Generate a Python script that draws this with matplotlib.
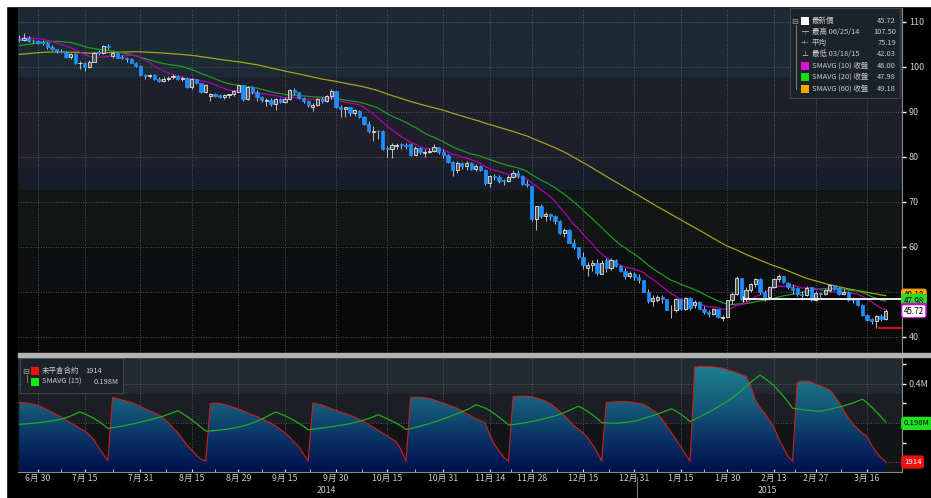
import numpy as np
import pandas as pd
import matplotlib
matplotlib.use('Agg')
import matplotlib.pyplot as plt
from matplotlib.patches import Rectangle
from matplotlib.colors import LinearSegmentedColormap
from matplotlib.lines import Line2D
import matplotlib.transforms as mtrans

plt.rcParams['font.family'] = ['Noto Sans CJK TC', 'DejaVu Sans']

# closes before the visible window (only used for the moving averages)
pre_close = [101.28, 101.67, 101.58,
             99.74, 99.62, 100.29, 101.14, 100.44, 102.56, 103.60, 103.40, 103.74, 104.05, 103.75,
             103.76, 104.30, 104.38, 102.13, 101.44, 101.94, 100.60, 100.84, 101.28, 99.74,
             99.42, 99.76, 99.48, 99.50, 100.77, 100.26, 99.99, 100.59, 101.70, 102.37, 101.50,
             102.02, 102.61, 102.44, 104.07, 103.73, 104.35, 104.11, 102.72, 103.58, 102.71,
             102.47, 102.66, 102.64, 102.48, 102.66, 104.41, 104.35, 104.40, 106.53, 106.91,
             106.90, 106.36, 106.97, 106.43, 107.26, 106.17]

# visible window 2014-06-24 .. 2015-03-20, one value per trading day
opens = [106.1, 106.0, 106.5, 105.8, 105.7,
         105.4, 105.3, 104.5, 104.0, 103.6, 103.4, 102.3, 102.9, 100.8, 100.9, 99.9, 101.2, 103.2, 103.1, 104.6,
         102.4, 103.1, 102.1, 102.1, 101.7, 100.9, 100.3,
         98.2, 97.9, 98.3, 97.4, 96.9, 97.3, 97.7, 98.1, 97.4, 97.6, 95.6, 97.3, 96.4, 94.5, 93.5, 94.0, 93.7,
         93.4, 93.8, 93.9, 94.5,
         95.9, 92.9, 95.5, 94.5, 93.3, 92.4, 92.7, 91.7, 92.8, 92.3, 92.9, 94.9, 94.4, 93.1, 92.4, 91.0, 91.6,
         92.8, 92.5, 93.5, 94.6,
         91.2, 90.7, 91.0, 89.7, 90.3, 88.9, 87.3, 85.5, 85.8, 85.7, 81.9, 81.8, 82.4, 82.9, 82.7, 82.8, 80.5,
         82.1, 80.8, 81.0, 81.4, 82.2, 81.1,
         80.5, 78.8, 77.2, 78.7, 77.9, 78.7, 77.4, 77.9, 77.2, 74.2, 75.8, 75.6, 74.9, 74.6, 75.6, 76.5, 75.8,
         74.1, 73.5,
         66.2, 69.0, 66.9, 67.4, 66.8, 65.8, 63.0, 63.8, 60.9, 60.0, 57.8, 55.3, 55.9, 56.5, 54.1, 57.0, 55.3,
         57.1, 55.8, 54.7, 53.6, 54.1,
         53.3, 52.7, 50.0, 47.9, 48.3, 48.8, 48.4, 46.1, 45.9, 48.5, 46.3, 48.7, 47.2, 47.8, 46.3, 45.6, 45.2,
         46.2, 44.2, 44.5,
         48.2, 49.6, 53.0, 48.5, 50.5, 51.7, 52.9, 50.0, 48.8, 51.2, 52.8, 53.5, 52.1, 51.2, 50.8, 49.5, 49.3,
         51.0, 48.2,
         49.8, 49.6, 50.5, 51.5, 50.8, 49.6, 50.0, 48.3, 48.2, 47.1, 44.8, 43.9, 43.5, 44.7, 44.0]
highs = [107.2, 107.5, 106.9, 106.2, 106.1,
         106.0, 105.5, 104.9, 104.1, 104.0, 103.6, 103.2, 103.0, 101.3, 101.1, 101.6, 103.4, 103.8, 104.9, 105.0,
         103.3, 103.4, 102.6, 102.3, 102.0, 101.0, 100.5,
         98.5, 98.5, 98.4, 97.8, 97.7, 98.1, 98.4, 98.2, 97.9, 97.7, 97.5, 97.4, 96.5, 96.3, 94.3, 94.3, 94.0,
         94.0, 94.1, 94.8, 96.1,
         96.0, 95.7, 95.7, 94.9, 93.6, 93.2, 93.1, 93.1, 93.2, 93.4, 95.0, 95.3, 94.5, 93.3, 92.6, 91.9, 93.0,
         93.3, 93.7, 95.0, 94.7,
         91.5, 91.2, 91.1, 90.6, 90.5, 89.0, 88.0, 86.9, 86.1, 85.9, 82.4, 83.0, 83.2, 83.2, 83.0, 83.1, 82.4,
         82.2, 81.7, 82.0, 82.8, 82.3, 81.7,
         80.7, 79.0, 79.0, 78.8, 79.1, 78.9, 78.4, 78.2, 77.3, 76.0, 76.3, 76.0, 75.0, 75.9, 77.1, 77.2, 76.0,
         74.8, 73.6,
         69.2, 69.5, 67.8, 67.6, 67.0, 65.9, 64.3, 64.1, 61.8, 60.1, 58.9, 56.7, 57.0, 57.3, 57.0, 57.5, 57.5,
         57.4, 56.0, 55.3, 54.6, 54.4,
         53.9, 52.7, 50.6, 49.3, 49.3, 49.3, 48.5, 47.1, 48.7, 48.6, 48.8, 48.9, 48.3, 48.0, 46.8, 46.0, 46.4,
         46.3, 44.8, 48.3,
         50.1, 53.5, 53.2, 51.0, 52.0, 53.2, 53.1, 50.5, 51.4, 53.0, 53.9, 53.6, 52.3, 51.8, 51.0, 50.2, 51.3,
         51.2, 50.3,
         50.0, 50.7, 51.7, 51.6, 51.0, 50.6, 50.2, 48.8, 48.4, 47.4, 45.1, 44.2, 44.8, 45.0, 46.3]
lows = [105.6, 105.8, 105.6, 105.3, 105.0,
        104.9, 104.1, 103.8, 103.2, 103.0, 102.1, 101.8, 100.6, 99.6, 99.0, 99.7, 101.0, 102.6, 102.9, 104.0,
        101.9, 101.9, 101.7, 101.1, 100.8, 99.9, 98.0,
        97.4, 97.5, 97.1, 96.7, 96.6, 96.9, 97.4, 97.2, 96.9, 95.4, 95.2, 96.2, 94.3, 94.2, 92.5, 93.3, 93.1,
        92.9, 93.2, 93.6, 94.4,
        92.5, 92.7, 94.0, 92.5, 92.2, 91.4, 91.4, 90.5, 91.9, 92.0, 92.6, 93.8, 92.9, 91.9, 91.2, 90.3, 91.3,
        92.1, 92.2, 92.8, 90.9,
        88.8, 88.9, 89.2, 89.2, 88.6, 87.0, 85.3, 83.6, 84.0, 81.6, 80.0, 79.8, 81.7, 81.8, 81.8, 80.2, 80.4,
        80.7, 80.0, 80.8, 81.0, 80.6, 79.8,
        78.6, 75.8, 76.5, 77.4, 77.2, 77.0, 76.9, 76.8, 73.8, 73.3, 74.9, 74.3, 73.7, 74.4, 75.4, 75.4, 73.8,
        73.3, 65.7,
        63.7, 66.5, 65.8, 66.1, 65.1, 62.8, 62.3, 60.8, 59.6, 57.3, 55.0, 53.6, 54.7, 53.7, 53.9, 54.5, 54.9,
        55.5, 54.5, 52.9, 53.1, 52.6,
        52.0, 49.9, 47.6, 46.8, 47.7, 47.6, 45.9, 44.2, 45.5, 46.0, 45.9, 45.9, 46.5, 46.2, 45.2, 44.4, 44.8,
        44.2, 43.6, 44.3,
        47.4, 49.3, 48.3, 48.0, 50.0, 51.0, 49.6, 48.0, 48.4, 50.9, 52.2, 51.9, 50.6, 49.5, 49.1, 48.2, 49.0,
        47.9, 48.0,
        48.9, 49.3, 50.0, 50.4, 49.4, 49.3, 48.0, 47.6, 46.8, 44.6, 43.6, 42.9, 42.03, 43.5, 43.8]
closes = [106.03, 106.50, 105.84, 105.74, 105.37,
          105.34, 104.48, 104.06, 103.53, 103.40, 102.29, 102.93, 100.83, 100.91, 99.96, 101.20, 103.19, 103.13,
          104.59, 104.42, 103.12, 102.07, 102.09, 101.67, 100.97, 100.27, 98.17,
          97.88, 98.29, 97.38, 96.92, 97.34, 97.65, 98.08, 97.37, 97.59, 95.58, 97.35, 96.41, 94.48, 96.07,
          93.96, 93.65, 93.35, 93.86, 93.88, 94.55, 95.96,
          92.88, 95.54, 94.45, 93.29, 92.66, 92.75, 91.67, 92.83, 92.27, 92.92, 94.88, 94.42, 93.07, 92.41,
          91.52, 91.56, 92.80, 92.53, 93.54, 94.57, 91.16,
          90.73, 91.01, 89.74, 90.34, 88.85, 87.31, 85.77, 85.82, 85.74, 81.84, 81.78, 82.70, 82.75, 82.71,
          82.49, 80.52, 82.09, 81.01, 81.00, 81.42, 82.20, 81.12, 80.54,
          78.78, 77.19, 78.68, 77.91, 78.65, 77.40, 77.94, 77.18, 74.21, 75.82, 75.64, 74.61, 74.58, 75.58,
          76.51, 75.78, 74.09, 73.69, 66.15,
          69.00, 66.88, 67.38, 66.81, 65.84, 63.05, 63.82, 60.94, 59.95, 57.81, 55.91, 55.93, 56.47, 54.11,
          56.52, 55.26, 57.12, 55.84, 54.73, 53.61, 54.12, 53.27,
          52.69, 50.04, 47.93, 48.65, 48.79, 48.36, 46.07, 45.89, 48.48, 46.25, 48.69, 46.39, 47.78, 46.31,
          45.59, 45.15, 46.23, 44.45, 44.53, 48.24,
          49.57, 53.05, 48.45, 50.48, 51.69, 52.86, 50.02, 48.84, 51.21, 52.78, 53.53, 52.14, 51.16, 50.34,
          49.45, 49.25, 50.99, 48.17, 49.76,
          49.59, 50.52, 51.53, 50.76, 49.61, 50.00, 48.29, 48.17, 47.05, 44.84, 43.88, 43.46, 44.66, 43.96, 45.72]

# open interest, millions of contracts
oi_pre = [0.280, 0.275, 0.265, 0.255, 0.240, 0.220, 0.200, 0.180, 0.150, 0.110, 0.070, 0.030, 0.005, 0.315]
oi = [0.305, 0.303, 0.300, 0.296, 0.290, 0.280, 0.268, 0.255, 0.243, 0.230, 0.215, 0.200, 0.188, 0.172,
      0.160, 0.140, 0.115, 0.075, 0.040, 0.007,
      0.330, 0.325, 0.318, 0.312, 0.306, 0.296, 0.285, 0.273, 0.262, 0.252, 0.240, 0.222, 0.200, 0.175,
      0.150, 0.118, 0.088, 0.060, 0.035, 0.015, 0.004,
      0.300, 0.302, 0.300, 0.295, 0.288, 0.280, 0.272, 0.262, 0.252, 0.242, 0.233, 0.222, 0.210, 0.200,
      0.185, 0.168, 0.150, 0.128, 0.103, 0.078, 0.040, 0.004,
      0.302, 0.298, 0.292, 0.282, 0.272, 0.265, 0.255, 0.248, 0.240, 0.230, 0.218, 0.205, 0.192, 0.178,
      0.163, 0.148, 0.133, 0.118, 0.103, 0.060, 0.004,
      0.330, 0.332, 0.332, 0.330, 0.325, 0.318, 0.310, 0.302, 0.293, 0.284, 0.275, 0.262, 0.248, 0.235,
      0.222, 0.212, 0.200, 0.140, 0.090, 0.055, 0.025, 0.004,
      0.335, 0.337, 0.338, 0.337, 0.335, 0.328, 0.320, 0.312, 0.298, 0.280, 0.260, 0.238, 0.212, 0.188,
      0.170, 0.150, 0.125, 0.090, 0.055, 0.004,
      0.304, 0.306, 0.308, 0.310, 0.310, 0.308, 0.305, 0.300, 0.295, 0.282, 0.265, 0.248, 0.218, 0.185,
      0.150, 0.115, 0.080, 0.040, 0.004,
      0.485, 0.490, 0.490, 0.490, 0.487, 0.484, 0.480, 0.472, 0.465, 0.458, 0.448, 0.438, 0.390, 0.320,
      0.280, 0.250, 0.215, 0.180, 0.120, 0.075, 0.030, 0.004,
      0.408, 0.414, 0.415, 0.410, 0.398, 0.390, 0.380, 0.368, 0.340, 0.305, 0.265, 0.225, 0.195, 0.170,
      0.148, 0.130, 0.085, 0.050, 0.022, 0.001914]

tick_pos = [4, 14, 26, 37, 47, 57, 68, 79, 91, 101, 110, 121, 132, 142, 152, 162, 171, 182]
tick_labels = ['6月 30', '7月 15', '7月 31', '8月 15', '8月 29', '9月 15', '9月 30', '10月 15', '10月 31',
               '11月 14', '11月 28', '12月 15', '12月 31', '1月 15', '1月 30', '2月 13', '2月 27', '3月 16']
year_labels = ['2014', '2015']
year_pos = [66, 160.5]
year_break = 132.5

W, H = 931, 498
fig = plt.figure(figsize=(W / 100, H / 100), dpi=100, facecolor='black')

def fx(px):
    return px / W

def fy(py):
    return 1 - py / H

# white margin strips
fig.add_artist(Rectangle((0, 0), fx(6), 1, transform=fig.transFigure, color='white', zorder=0))
fig.add_artist(Rectangle((0, fy(6)), 1, 6 / H, transform=fig.transFigure, color='white', zorder=0))

ax = fig.add_axes([fx(18), fy(353), fx(884), 345 / H])
ax2 = fig.add_axes([fx(18), fy(472), fx(884), 115 / H])

n = len(closes)
x = np.arange(n)
xlim = (-0.3, 189.5)
grid_kw = dict(color='#5f6a75', lw=0.6, ls=(0, (1, 2)))
small = 5.4

# ---- price panel ----
bands = [(97.8, 113.2, '#1c2a34'), (77.6, 97.8, '#1e1f2a'), (72.7, 77.6, '#171c29'),
         (60.4, 72.7, '#121614'), (50, 60.4, '#0d0f10'), (36, 50, '#09090a')]
for lo, hi, c in bands:
    ax.axhspan(lo, hi, color=c, zorder=0, lw=0)
for yv in [40, 50, 60, 70, 80, 90, 100, 110]:
    ax.axhline(yv, zorder=0.5, **grid_kw)
for p in tick_pos:
    ax.axvline(p, zorder=0.5, **grid_kw)

all_close = pd.Series(pre_close + closes)
k = len(pre_close)
sma10 = all_close.rolling(10).mean().values[k:]
sma20 = all_close.rolling(20).mean().values[k:]
sma60 = all_close.rolling(60).mean().values[k:]
ax.plot(x, sma60, color='#a3a31c', lw=0.9, zorder=2)
ax.plot(x, sma20, color='#1f9a1f', lw=0.9, zorder=2)
ax.plot(x, sma10, color='#b000b0', lw=0.9, zorder=2)

for i in range(n):
    o, h, l, c = opens[i], highs[i], lows[i], closes[i]
    ax.vlines(i, l, h, color='#bdbdbd', lw=0.7, zorder=3)
    bottom = min(o, c)
    height = max(abs(c - o), 0.12)
    if c < o:
        ax.add_patch(Rectangle((i - 0.35, bottom), 0.7, height, facecolor='#1e8fff',
                               edgecolor='#1e8fff', lw=0.5, zorder=4))
    else:
        ax.add_patch(Rectangle((i - 0.35, bottom), 0.7, height, facecolor='#50555b',
                               edgecolor='#e6e6e6', lw=0.6, zorder=4))

ax.hlines(48.4, 155.4, xlim[1], color='white', lw=1.3, zorder=5)
ax.plot([155.4], [48.4], marker='|', color='white', ms=5, zorder=5)
ax.hlines(42.03, 184.4, xlim[1], color='#d01010', lw=1.5, zorder=5)

ax.set_xlim(*xlim)
ax.set_ylim(36.44, 113.1)
ax.set_facecolor('#0a0a0a')
for s in ['top', 'left', 'bottom']:
    ax.spines[s].set_visible(False)
ax.spines['right'].set_color('#8a8a8a')
ax.set_xticks([])
ax.yaxis.tick_right()
ax.set_yticks([40, 50, 60, 70, 80, 90, 100, 110])
ax.set_yticklabels(['40', '', '60', '70', '80', '90', '100', '110'])
ax.tick_params(axis='y', colors='white', labelcolor='#d0d0d0', labelsize=6.5, length=3, width=1, pad=2)

blend = mtrans.blended_transform_factory(ax.transAxes, ax.transData)
tags = [(49.18, '49.18', '#f5a800', 'black', '#f5a800'),
        (47.98, '47.98', '#22e022', 'black', '#22e022'),
        (46.00, '46.00', '#d000d0', 'black', '#d000d0'),
        (45.72, '45.72', 'white', 'black', '#c000c0')]
for yv, txt, fc, tc, ec in tags:
    ax.text(1.002, yv, txt, transform=blend, ha='left', va='center', fontsize=5.8, color=tc,
            bbox=dict(boxstyle='round,pad=0.25', fc=fc, ec=ec, lw=0.8), clip_on=False, zorder=10)

# legend box (price)
fig.add_artist(Rectangle((fx(790), fy(98)), fx(110), 90 / H, transform=fig.transFigure,
                         facecolor='#1b2229', edgecolor='#3c4650', lw=0.8, alpha=0.95, zorder=20))
rows = [('最新價', '45.72', 'white'), ('最高 06/25/14', '107.50', None), ('平均', '75.19', None),
        ('最低 03/18/15', '42.03', None), ('SMAVG (10) 收盤', '46.00', '#e010d0'),
        ('SMAVG (20) 收盤', '47.98', '#10e010'), ('SMAVG (60) 收盤', '49.18', '#f5a800')]
marks = [None, '┬', '-+-', '⊥', None, None, None]
row_y = [21, 32, 43, 54, 66, 77, 89]
for (lab, val, col), mk, ry in zip(rows, marks, row_y):
    if col is not None:
        fig.add_artist(Rectangle((fx(801), fy(ry + 4)), fx(8), 8 / H, transform=fig.transFigure,
                                 facecolor=col, edgecolor='none', zorder=21))
    else:
        fig.text(fx(805), fy(ry), mk, ha='center', va='center', fontsize=5, color='#c8c8c8', zorder=21)
    fig.text(fx(812), fy(ry), lab, ha='left', va='center', fontsize=small, color='#c8c8c8', zorder=21)
    fig.text(fx(896), fy(ry), val, ha='right', va='center', fontsize=small, color='#c8c8c8', zorder=21)
fig.text(fx(795), fy(21), '⊟', ha='center', va='center', fontsize=6, color='#a0a0a0', zorder=21)
fig.add_artist(Line2D([fx(796), fx(796)], [fy(25), fy(89)], transform=fig.transFigure,
                      color='#8a8a8a', lw=0.6, zorder=21))

# panel separator
fig.add_artist(Rectangle((fx(18), fy(356.5)), 1 - fx(18), 3.5 / H, transform=fig.transFigure,
                         color='#b4b4b4', zorder=30))

# ---- open interest panel ----
ylo, yhi = -0.051, 0.538
for lo, hi, c in [(0.35, 0.6, '#222a30'), (0.2, 0.35, '#1b1f23'), (-0.1, 0.2, '#131416')]:
    ax2.axhspan(lo, hi, color=c, zorder=0, lw=0)
for yv in [0, 0.2, 0.4]:
    ax2.axhline(yv, zorder=0.5, **grid_kw)
for p in tick_pos:
    ax2.axvline(p, zorder=0.5, **grid_kw)

cmap = LinearSegmentedColormap.from_list('oi', [(0, '#03114a'), (0.1, '#041b55'), (0.35, '#0c3868'),
                                                 (0.65, '#165e7c'), (1, '#1c8292')])
poly = ax2.fill_between(x, oi, ylo, facecolor='none', edgecolor='none')
grad = np.linspace(0, 1, 256).reshape(-1, 1)
img = ax2.imshow(grad, extent=[x[0], x[-1], ylo, 0.5], origin='lower', aspect='auto', cmap=cmap, zorder=1)
img.set_clip_path(poly.get_paths()[0], transform=ax2.transData)
ax2.plot(x, oi, color='#c8201e', lw=0.8, zorder=3)

oi_sma = pd.Series(oi_pre + oi).rolling(15).mean().values[len(oi_pre):]
ax2.plot(x, oi_sma, color='#22aa22', lw=0.9, zorder=3)

ax2.set_xlim(*xlim)
ax2.set_ylim(ylo, yhi)
for s in ['top', 'left']:
    ax2.spines[s].set_visible(False)
ax2.spines['right'].set_color('#8a8a8a')
ax2.spines['bottom'].set_color('#8a8a8a')
ax2.yaxis.tick_right()
ax2.set_yticks([0, 0.2, 0.4])
ax2.set_yticklabels(['', '', '0.4M'])
ax2.set_yticks([0.1, 0.3, 0.5], minor=True)
ax2.tick_params(axis='y', which='both', colors='white', labelcolor='#d0d0d0', labelsize=6.5,
                length=3, width=1, pad=2)
ax2.set_xticks(tick_pos)
ax2.set_xticklabels(tick_labels)
ax2.set_xticks([(a + b) / 2 for a, b in zip(tick_pos[:-1], tick_pos[1:])], minor=True)
ax2.tick_params(axis='x', which='both', direction='in', colors='#dddddd', labelcolor='#cccccc',
                labelsize=6.3, length=2, pad=1.5)

blend2 = mtrans.blended_transform_factory(ax2.transAxes, ax2.transData)
ax2.text(1.002, 0.198, '0.198M', transform=blend2, ha='left', va='center', fontsize=5.6, color='black',
         bbox=dict(boxstyle='round,pad=0.25', fc='#22e022', ec='#22e022'), clip_on=False, zorder=10)
ax2.text(1.002, 0.0, '1914', transform=blend2, ha='left', va='center', fontsize=5.6, color='white',
         bbox=dict(boxstyle='round,pad=0.25', fc='#ee1111', ec='#ee1111'), clip_on=False, zorder=10)

blend3 = mtrans.blended_transform_factory(ax2.transData, ax2.transAxes)
for yl, yp in zip(year_labels, year_pos):
    ax2.text(yp, -0.157, yl, transform=blend3, ha='center', va='center', fontsize=6.3, color='#cccccc',
             clip_on=False)
ax2.add_artist(Line2D([year_break, year_break], [-0.04, -0.25], transform=blend3,
                      color='#777777', lw=0.8, clip_on=False))

# legend box (open interest)
fig.add_artist(Rectangle((fx(20), fy(393)), fx(103), 35 / H, transform=fig.transFigure,
                         facecolor='#1c2228', edgecolor='#3c4650', lw=0.8, alpha=0.95, zorder=20))
fig.text(fx(26), fy(371), '⊟', ha='center', va='center', fontsize=6, color='#a0a0a0', zorder=21)
fig.add_artist(Line2D([fx(27), fx(27)], [fy(375), fy(382)], transform=fig.transFigure,
                      color='#8a8a8a', lw=0.6, zorder=21))
fig.add_artist(Rectangle((fx(31), fy(375)), fx(8), 8 / H, transform=fig.transFigure,
                         facecolor='#ee1111', edgecolor='none', zorder=21))
fig.add_artist(Rectangle((fx(31), fy(386)), fx(8), 8 / H, transform=fig.transFigure,
                         facecolor='#11ee11', edgecolor='none', zorder=21))
fig.text(fx(42), fy(371), '未平倉合約', ha='left', va='center', fontsize=small, color='#c8c8c8', zorder=21)
fig.text(fx(85), fy(371), '1914', ha='left', va='center', fontsize=small, color='#c8c8c8', zorder=21)
fig.text(fx(42), fy(382), 'SMAVG (15)', ha='left', va='center', fontsize=small, color='#c8c8c8', zorder=21)
fig.text(fx(119), fy(382), '0.198M', ha='right', va='center', fontsize=small, color='#c8c8c8', zorder=21)

fig.savefig('out.png', dpi=100, facecolor='black')
